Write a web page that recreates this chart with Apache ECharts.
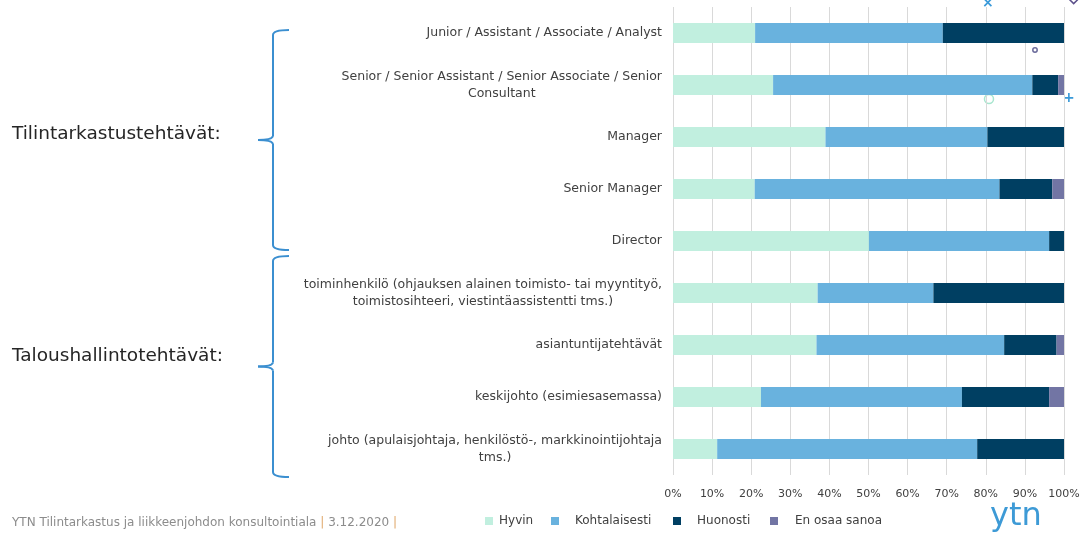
<!DOCTYPE html>
<html>
<head>
<meta charset="utf-8">
<script src="https://cdn.jsdelivr.net/npm/echarts@6/dist/echarts.min.js"></script>
<style>
  html, body { margin: 0; padding: 0; background: #fff; }
  #main { width: 1083px; height: 533px; }
</style>
</head>
<body>
<div id="main"></div>
<script>
var chartDom = document.getElementById('main');
var myChart = echarts.init(chartDom);
var option;

// Job roles, top to bottom
const roles = [
    'Junior / Assistant / Associate / Analyst',
    'Senior / Senior Assistant / Senior Associate / Senior\nConsultant',
    'Manager',
    'Senior Manager',
    'Director',
    'toiminhenkilö (ohjauksen alainen toimisto- tai myyntityö,\ntoimistosihteeri, viestintäassistentti tms.)',
    'asiantuntijatehtävät',
    'keskijohto (esimiesasemassa)',
    'johto (apulaisjohtaja, henkilöstö-, markkinointijohtaja\ntms.)'
];

// Shares in percent
const hyvin = [21, 25.6, 39, 20.9, 50.1, 37, 36.7, 22.5, 11.3];
const kohtalaisesti = [48, 66.3, 41.4, 62.6, 46.1, 29.6, 48, 51.4, 66.5];
const huonosti = [31, 6.6, 19.6, 13.5, 3.8, 33.4, 13.4, 22.3, 22.2];
const enOsaa = [0, 1.5, 0, 3, 0, 0, 1.9, 3.8, 0];

const seriesNames = ['Hyvin', 'Kohtalaisesti', 'Huonosti', 'En osaa sanoa'];
const seriesColors = ['#c1efdf', '#69b2de', '#003f62', '#7275a4'];
const legendLeft = [485, 551, 673, 770];
const legendTextPad = [1, 11, 11, 12];

const font = 'DejaVu Sans';
const textColor = '#404040';
const braceColor = '#3b8fd0';

function makeSeries(name, values, i) {
    return {
        name: name,
        type: 'bar',
        stack: 'total',
        barWidth: 20,
        data: values,
        itemStyle: { color: seriesColors[i] },
        emphasis: { disabled: true }
    };
}

// Curly brace built from curves and lines (opening to the right)
function brace(x, y0, y1) {
    const ym = (y0 + y1) / 2;
    const s = { fill: null, stroke: braceColor, lineWidth: 2 };
    const q = function (a, b, c, d, cx, cy) {
        return { type: 'bezierCurve', shape: { x1: a, y1: b, x2: c, y2: d, cpx1: cx, cpy1: cy }, style: s };
    };
    const l = function (a, b, c, d) {
        return { type: 'line', shape: { x1: a, y1: b, x2: c, y2: d }, style: s };
    };
    return [
        q(x + 16, y0, x, y0 + 5, x, y0),
        l(x, y0 + 5, x, ym - 4),
        q(x, ym - 4, x - 15, ym, x - 1, ym),
        q(x - 15, ym, x, ym + 4, x - 1, ym),
        l(x, ym + 4, x, y1 - 5),
        q(x, y1 - 5, x + 16, y1, x, y1)
    ];
}

option = {
    backgroundColor: '#fff',
    animation: false,
    textStyle: { fontFamily: font },
    grid: {
        left: 673,
        right: 19,
        top: 7,
        bottom: 58,
        containLabel: false
    },
    xAxis: {
        type: 'value',
        min: 0,
        max: 100,
        interval: 10,
        axisLine: { show: false },
        axisTick: { show: false },
        splitLine: { show: true, lineStyle: { color: '#d9d9d9', width: 1 } },
        axisLabel: {
            formatter: '{value}%',
            color: textColor,
            fontSize: 11,
            fontFamily: font,
            margin: 14
        }
    },
    yAxis: {
        type: 'category',
        inverse: true,
        data: roles,
        axisLine: { show: false },
        axisTick: { show: false },
        axisLabel: {
            margin: 11,
            color: textColor,
            fontSize: 12.5,
            fontFamily: font,
            lineHeight: 17,
            formatter: function (v) {
                return v.split('\n').map(function (t) { return '{c|' + t + '}'; }).join('\n');
            },
            rich: {
                c: { align: 'center', color: textColor, fontSize: 12.5, fontFamily: font, lineHeight: 17 }
            }
        }
    },
    legend: seriesNames.map(function (n, i) {
        return {
            data: [n],
            left: legendLeft[i],
            top: 515,
            padding: 0,
            icon: 'rect',
            itemWidth: 8,
            itemHeight: 8,
            textStyle: {
                color: textColor, fontSize: 12, fontFamily: font,
                padding: [0, 0, 0, legendTextPad[i]]
            }
        };
    }),
    series: [
        makeSeries(seriesNames[0], hyvin, 0),
        makeSeries(seriesNames[1], kohtalaisesti, 1),
        makeSeries(seriesNames[2], huonosti, 2),
        makeSeries(seriesNames[3], enOsaa, 3)
    ],
    graphic: {
        elements: [
            {
                type: 'text', left: 12, top: 125,
                style: { text: 'Tilintarkastustehtävät:', font: '18.5px "DejaVu Sans"', fill: '#262626' }
            },
            {
                type: 'text', left: 12, top: 347,
                style: { text: 'Taloushallintotehtävät:', font: '18.5px "DejaVu Sans"', fill: '#262626' }
            },
            {
                type: 'text', left: 12, top: 517,
                style: {
                    text: '{t|YTN Tilintarkastus ja liikkeenjohdon konsultointiala }{p||}{t| 3.12.2020 }{p||}',
                    rich: {
                        t: { fill: '#8c8c8c', font: '12px "DejaVu Sans"' },
                        p: { fill: '#e0a86a', font: '12px "DejaVu Sans"' }
                    }
                }
            },
            {
                type: 'text', left: 990, top: 501,
                style: { text: 'ytn', font: '32px "DejaVu Sans"', fill: '#3d9ad6' }
            },
            // small decorative chart markers near the top right
            {
                type: 'text', left: 982, top: -4,
                style: { text: '×', font: 'bold 14px "DejaVu Sans"', fill: '#3a9ad9' }
            },
            {
                type: 'rect', x: 1068, y: -2, rotation: Math.PI / 4,
                shape: { x: 0, y: 0, width: 8, height: 8 },
                style: { fill: null, stroke: '#5b4f8a', lineWidth: 1.5 }
            },
            {
                type: 'circle', shape: { cx: 1035, cy: 50, r: 2.2 },
                style: { fill: null, stroke: '#6b6b9b', lineWidth: 1.5 }
            },
            {
                type: 'circle', shape: { cx: 989, cy: 99, r: 4.5 },
                style: { fill: null, stroke: '#a8e6cf', lineWidth: 1.5 }
            },
            {
                type: 'text', left: 1063, top: 91,
                style: { text: '+', font: 'bold 14px "DejaVu Sans"', fill: '#3a9ad9' }
            }
        ].concat(brace(273, 30, 250), brace(273, 256, 477))
    }
};

myChart.setOption(option);
</script>
</body>
</html>
